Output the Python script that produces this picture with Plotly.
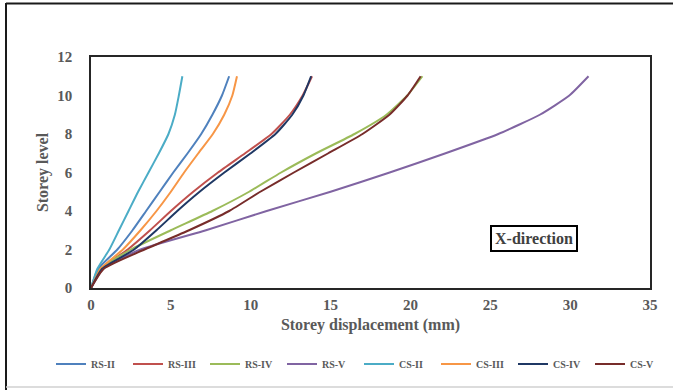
import plotly.graph_objects as go

levels = [0, 1, 2, 3, 4, 5, 6, 7, 8, 9, 10, 11]

rs_ii = [0, 0.45, 1.65, 2.6, 3.45, 4.3, 5.15, 6.05, 6.9, 7.6, 8.2, 8.65]
rs_iii = [0, 0.6, 2.3, 3.7, 5.0, 6.4, 7.95, 9.65, 11.3, 12.45, 13.25, 13.84]
rs_iv = [0, 0.6, 2.5, 5.0, 7.6, 9.9, 11.9, 14.1, 16.5, 18.5, 19.8, 20.75]
rs_v = [0, 0.75, 3.1, 7.2, 11.0, 15.0, 18.7, 22.2, 25.5, 28.1, 29.95, 31.15]
cs_ii = [0, 0.4, 1.15, 1.75, 2.35, 2.95, 3.6, 4.25, 4.85, 5.25, 5.5, 5.72]
cs_iii = [0, 0.6, 2.0, 3.1, 4.1, 5.0, 5.83, 6.72, 7.63, 8.34, 8.85, 9.14]
cs_iv = [0, 0.7, 2.7, 4.1, 5.4, 6.8, 8.35, 10.0, 11.55, 12.6, 13.3, 13.78]
cs_v = [0, 0.8, 3.35, 6.14, 8.65, 10.6, 12.7, 14.86, 17.0, 18.68, 19.82, 20.64]

series_names = ["RS-II", "RS-III", "RS-IV", "RS-V", "CS-II", "CS-III", "CS-IV", "CS-V"]
series_values = [rs_ii, rs_iii, rs_iv, rs_v, cs_ii, cs_iii, cs_iv, cs_v]
colors = ["#4F81BD", "#C0504D", "#9BBB59", "#8064A2", "#4BACC6", "#F79646", "#1F3864", "#772C2A"]

x_ticks = [0, 5, 10, 15, 20, 25, 30, 35]
y_ticks = [0, 2, 4, 6, 8, 10, 12]

serif = "Liberation Serif, Times New Roman, serif"
gray = "#595959"

fig = go.Figure()
for name, vals, col in zip(series_names, series_values, colors):
    fig.add_trace(go.Scatter(
        x=vals, y=levels, name="<b>" + name + "</b>", mode="lines",
        line=dict(color=col, width=2, shape="spline", smoothing=0.5),
    ))

W, H = 673, 390
L, R, T, B = 91, 23, 57, 102
pw, ph = W - L - R, H - T - B

def px2x(p):
    return (p - L) / pw

def py2y(p):
    return (H - B - p) / ph

fig.update_layout(
    width=W, height=H,
    margin=dict(l=L, r=R, t=T, b=B),
    paper_bgcolor="white", plot_bgcolor="white",
    showlegend=True,
    legend=dict(
        orientation="h", x=px2x(51), xanchor="left", y=py2y(364), yanchor="middle",
        font=dict(family=serif, size=10, color=gray),
        entrywidth=32, entrywidthmode="pixels",
        bgcolor="rgba(0,0,0,0)",
    ),
    xaxis=dict(
        range=[0, 35], tickvals=x_ticks, ticktext=["<b>%d</b>" % v for v in x_ticks],
        showgrid=False, zeroline=False, showline=True, linecolor="#262626", linewidth=1.5,
        mirror=True, ticks="", ticklabelstandoff=2, automargin=False,
        tickfont=dict(family=serif, size=15, color=gray),
        title=dict(text="<b>Storey displacement (mm)</b>", font=dict(family=serif, size=16, color=gray), standoff=7),
    ),
    yaxis=dict(
        range=[0, 12], tickvals=y_ticks, ticktext=["<b>%d</b>" % v for v in y_ticks],
        showgrid=False, zeroline=False, showline=True, linecolor="#262626", linewidth=1.5,
        mirror=True, ticks="", ticklabelstandoff=14, automargin=False,
        tickfont=dict(family=serif, size=15, color=gray),
        title=dict(text="<b>Storey level</b>", font=dict(family=serif, size=16, color=gray), standoff=5),
    ),
)

fig.add_annotation(
    x=px2x(578), y=py2y(251.5), xref="paper", yref="paper",
    text="<b>X-direction</b>", showarrow=False,
    font=dict(family=serif, size=16, color="#404040"),
    bordercolor="black", borderwidth=2, borderpad=3, bgcolor="white",
)

# outer chart frame
fig.add_shape(type="line", xref="paper", yref="paper",
              x0=px2x(6), x1=px2x(6), y0=py2y(3), y1=py2y(392),
              line=dict(color="#1a1a1a", width=2))
fig.add_shape(type="line", xref="paper", yref="paper",
              x0=px2x(6), x1=px2x(680), y0=py2y(3.5), y1=py2y(3.5),
              line=dict(color="#1a1a1a", width=2))
fig.add_shape(type="line", xref="paper", yref="paper",
              x0=px2x(6), x1=px2x(680), y0=py2y(387), y1=py2y(387),
              line=dict(color="#d0d0d0", width=1.5))

fig.write_html("out.html")
